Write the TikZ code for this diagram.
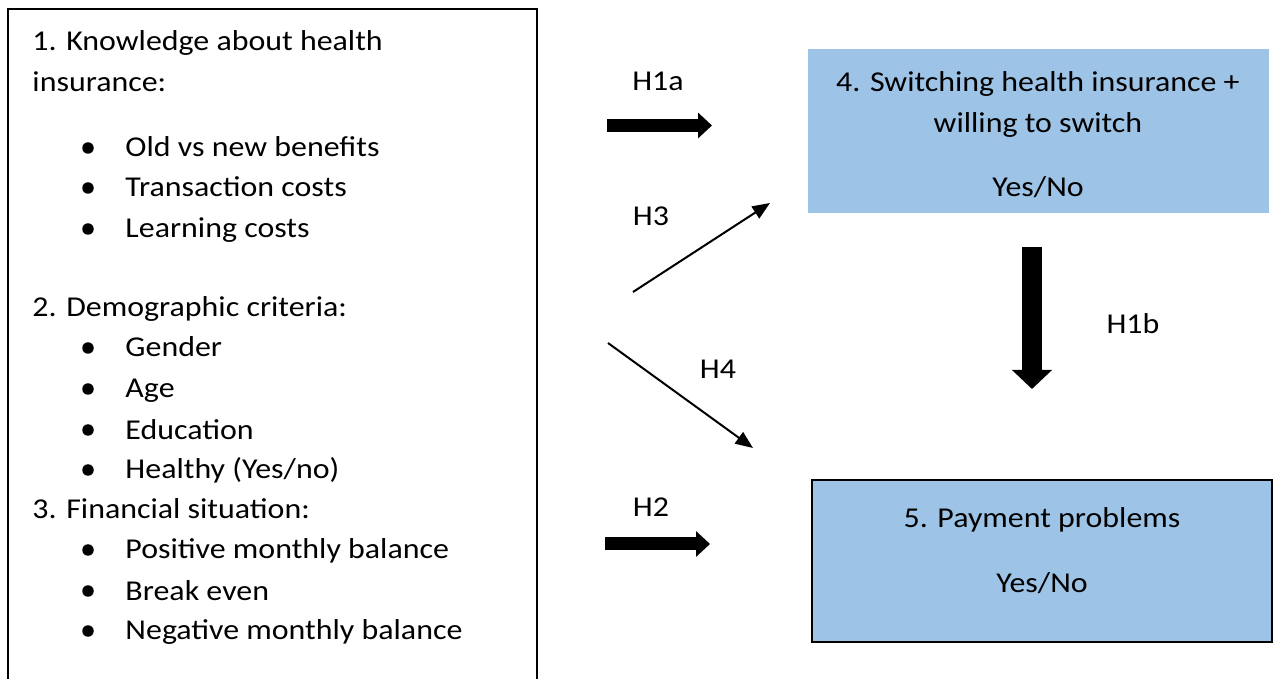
\documentclass[tikz,border=0pt]{standalone}
\usepackage{fontspec}
\setmainfont{Carlito}[FakeStretch=1.11]
\usetikzlibrary{arrows.meta}
\definecolor{boxblue}{RGB}{157,195,230}

\tikzset{
  txt/.style={anchor=base west, inner sep=0pt, font=\fontsize{11.5}{13}\selectfont},
  ctxt/.style={anchor=base, inner sep=0pt, font=\fontsize{11.5}{13}\selectfont},
  thinarrow/.style={line width=0.8pt, -{Triangle[length=7pt,width=5.6pt]}},
  fatarrow/.style={line width=5.2pt, -{Triangle[length=5.6pt,width=10pt]}},
}

\begin{document}
\begin{tikzpicture}[x=0.4pt,y=-0.4pt]
\useasboundingbox (0,0) rectangle (1276,679);

% left box, open at the bottom
\draw [line width=0.8pt] (8,679) -- (8,9) -- (537,9) -- (537,679);

\node [txt] (k1) at (32,51) {1. Knowledge about health};
\node [txt] (k2) at (32,92) {insurance:};
\node [txt] (dem) at (32,317) {2. Demographic criteria:};
\node [txt] (fin) at (32,519) {3. Financial situation:};

\foreach \y/\t [count=\i] in {157/Old vs new benefits, 197/Transaction costs, 238/Learning costs,
    357/Gender, 398/Age, 439/Education, 479/{Healthy (Yes/no)},
    559/Positive monthly balance, 600/Break even, 640/Negative monthly balance}
{
  \fill (88,\y-9) circle (2.3pt);
  \node [txt] (item\i) at (125,\y) {\t};
}

% outcome boxes
\node [fill=boxblue, minimum width=184.4pt, minimum height=65.6pt] (switch) at (1038.5,131) {};
\node [ctxt] (sw1) at (1038,92) {4. Switching health insurance +};
\node [ctxt] (sw2) at (1038,133) {willing to switch};
\node [ctxt] (sw3) at (1038,197) {Yes/No};

\node [draw, line width=0.8pt, fill=boxblue, minimum width=184pt, minimum height=64.8pt] (pay) at (1042,561) {};
\node [ctxt] (pay1) at (1042,528) {5. Payment problems};
\node [ctxt] (pay2) at (1042,592) {Yes/No};

% hypotheses
\coordinate (h1a-s) at (607,125.5);
\coordinate (h1a-e) at (712,125.5);
\coordinate (h2-s) at (605,544);
\coordinate (h2-e) at (710,544);
\coordinate (h1b-s) at (1032,247);
\coordinate (h1b-e) at (1032,389);
\coordinate (h3-s) at (633,292);
\coordinate (h3-e) at (770,203);
\coordinate (h4-s) at (608,343);
\coordinate (h4-e) at (753,448);

\draw [fatarrow] (h1a-s) -- (h1a-e);
\draw [fatarrow] (h2-s) -- (h2-e);
\draw [line width=8pt, -{Triangle[length=7.6pt,width=15.6pt]}] (h1b-s) -- (h1b-e);
\draw [thinarrow] (h3-s) -- (h3-e);
\draw [thinarrow] (h4-s) -- (h4-e);

\node [ctxt] (l1a) at (658,91) {H1a};
\node [ctxt] (l2) at (651,517) {H2};
\node [ctxt] (l3) at (651,226) {H3};
\node [ctxt] (l4) at (718,379) {H4};
\node [ctxt] (l1b) at (1133,334) {H1b};
\end{tikzpicture}
\end{document}
